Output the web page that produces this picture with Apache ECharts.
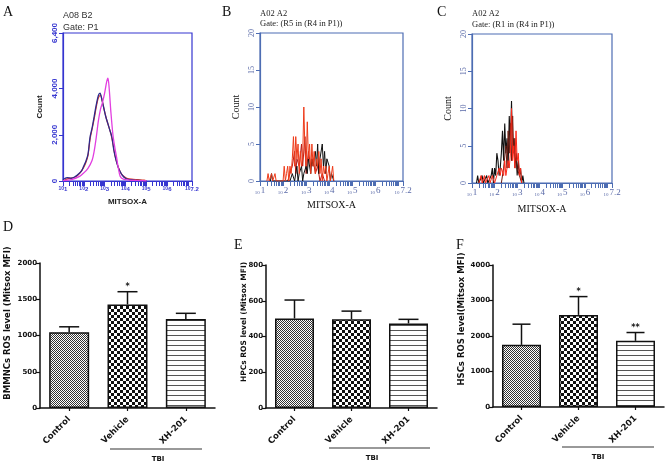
<!DOCTYPE html>
<html><head><meta charset="utf-8">
<script src="https://cdn.jsdelivr.net/npm/echarts@6/dist/echarts.min.js"></script>
<style>html,body{margin:0;padding:0;background:#fff}#c{width:666px;height:466px}</style>
</head><body><div id="c"></div>
<script>
// ---------- DATA ----------
// Panel A: x = log10(MITSOX-A), y = count
const aRed  = [[1.1,60],[1.3,110],[1.6,170],[1.8,330],[2.0,600],[2.1,800],[2.2,1100],[2.3,1800],[2.4,2250],[2.5,2700],[2.6,3200],[2.7,3600],[2.8,3700],[2.9,3400],[3.0,3000],[3.1,2650],[3.2,2350],[3.3,2050],[3.4,1600],[3.5,1100],[3.6,750],[3.7,500],[3.8,320],[3.95,180],[4.1,110],[4.3,80],[4.6,60],[4.9,40],[5.0,10]];
const aNavy = [[1.0,50],[1.2,150],[1.4,120],[1.6,200],[1.8,350],[1.9,450],[2.0,650],[2.1,850],[2.2,1150],[2.3,1900],[2.4,2300],[2.5,2800],[2.6,3300],[2.7,3700],[2.78,3800],[2.85,3600],[2.95,3200],[3.05,2800],[3.15,2500],[3.25,2200],[3.35,1900],[3.45,1300],[3.55,900],[3.65,600],[3.75,400],[3.85,250],[4.0,120],[4.2,60],[4.5,30],[4.8,20],[5.0,10]];
const aPink = [[1.0,20],[1.4,60],[1.8,200],[2.0,350],[2.2,550],[2.4,900],[2.5,1300],[2.6,1900],[2.7,2600],[2.8,3100],[2.9,3400],[3.0,3800],[3.1,4300],[3.16,4450],[3.22,4000],[3.3,3000],[3.4,2000],[3.5,1400],[3.58,1000],[3.65,600],[3.75,200],[3.9,80],[4.2,40],[4.5,25],[5.0,10]];
// Panel B
const bRed1 = [[1.3,0],[1.35,1],[1.4,0],[1.5,1],[1.55,0],[1.65,1],[1.7,0],[2.0,0],[2.05,2],[2.1,0],[2.15,1],[2.2,2],[2.25,0],[2.3,2],[2.35,1],[2.4,3],[2.45,6],[2.5,2],[2.55,6],[2.6,3],[2.65,5],[2.7,1],[2.75,4],[2.8,2],[2.85,3],[2.9,10],[2.95,4],[3.0,2],[3.05,8],[3.1,3],[3.15,5],[3.2,1],[3.25,5],[3.3,2],[3.35,4],[3.4,1],[3.45,3],[3.5,2],[3.55,4],[3.6,1],[3.65,3],[3.7,0],[3.75,2],[3.8,1],[3.85,2],[3.9,0],[3.95,1],[4.0,2],[4.05,0],[4.1,1],[4.15,2],[4.2,0]];
const bRed2 = [[2.2,0],[2.3,1],[2.4,2],[2.5,4],[2.55,1],[2.6,3],[2.7,2],[2.8,5],[2.85,2],[2.95,6],[3.0,1],[3.1,4],[3.2,2],[3.3,3],[3.4,1],[3.5,2],[3.6,0],[3.7,1],[3.8,0]];
const bBlack = [[1.45,0],[1.5,1],[1.55,0],[2.3,0],[2.4,1],[2.5,0],[2.6,2],[2.65,0],[2.7,1],[2.8,2],[2.85,0],[2.9,1],[3.0,2],[3.05,1],[3.1,3],[3.2,1],[3.25,3],[3.3,2],[3.4,4],[3.45,2],[3.5,5],[3.55,1],[3.6,3],[3.7,5],[3.75,2],[3.8,4],[3.85,1],[3.9,3],[4.0,2],[4.05,0],[4.1,1],[4.2,0]];
// Panel C
const cBlack = [[1.2,0],[1.25,1],[1.3,0],[1.45,1],[1.5,0],[1.65,1],[1.7,0],[1.85,1],[1.9,2],[1.95,0],[2.0,2],[2.05,1],[2.1,4],[2.15,3],[2.2,1],[2.25,2],[2.3,4],[2.35,7],[2.4,3],[2.45,8],[2.5,4],[2.55,6],[2.6,2],[2.65,9],[2.7,5],[2.75,11],[2.8,4],[2.85,6],[2.9,2],[2.95,4],[3.0,1],[3.05,3],[3.1,1],[3.15,2],[3.2,0],[3.25,1],[3.3,0]];
const cDark = [[2.3,0],[2.4,2],[2.5,5],[2.55,2],[2.6,7],[2.65,4],[2.7,8],[2.75,3],[2.8,9],[2.85,4],[2.9,6],[3.0,2],[3.1,1],[3.2,0]];
const cRed = [[1.3,0],[1.4,1],[1.45,0],[1.55,1],[1.6,0],[1.75,1],[1.8,0],[1.9,1],[2.0,0],[2.1,1],[2.2,2],[2.25,1],[2.3,2],[2.4,1],[2.45,3],[2.5,1],[2.55,2],[2.6,3],[2.65,2],[2.7,4],[2.75,10],[2.8,3],[2.85,5],[2.9,2],[2.95,7],[3.0,3],[3.05,4],[3.1,1],[3.15,2],[3.2,0]];
// Bar panels
const categories = ['Control','Vehicle','XH-201'];
const dMean  = [1045, 1428, 1226];
const dUpper = [1120, 1604, 1306];
const dStars = ['', '*', ''];
const eMean  = [501, 497, 473];
const eUpper = [604, 542, 496];
const eStars = ['', '', ''];
const fMean  = [1751, 2594, 1864];
const fUpper = [2333, 3110, 2098];
const fStars = ['', '*', '**'];
const flowXLabels = [1,2,3,4,5,6,7.2];
const aYLabels = [0,2000,4000,6400];

// ---------- HELPERS ----------
const logTicks = [];
for (let n = 1; n <= 7; n++) for (let k = 1; k <= 9; k++) { const v = n + Math.log10(k); if (v <= 7.2) logTicks.push(v); }
logTicks.push(7.2);

function pat(draw, w, h) {
  const c = document.createElement('canvas'); c.width = w; c.height = h;
  const g = c.getContext('2d'); g.fillStyle = '#fff'; g.fillRect(0, 0, w, h); draw(g, w, h);
  return { image: c, repeat: 'repeat' };
}
const fineChk = pat((g) => { g.fillStyle = '#333'; g.fillRect(0,0,1,1); g.fillRect(1,1,1,1); }, 2, 2);
const coarseChk = pat((g) => { g.fillStyle = '#111'; g.fillRect(0,0,3,3); g.fillRect(3,3,3,3); }, 6, 6);
const stripes = pat((g, w) => { g.fillStyle = '#555'; g.fillRect(0,0,w,1); }, 4, 5);
const patterns = [fineChk, coarseChk, stripes];

const BLUE_A = '#3535d0', BLUE_B = '#4d6db3', LBL_B = '#5a6aa8';
const SERIF = '"Liberation Serif","DejaVu Serif",serif';
const SANS = '"Liberation Sans",Arial,sans-serif';
const BOLDSANS = '"DejaVu Sans",Verdana,sans-serif';

function flowX(i, color, serif, gap) {
  return {
    type: 'value', gridIndex: i, min: 1, max: 7.2,
    axisLine: { show: true, onZero: false, lineStyle: { color, width: 1.2 } },
    splitLine: { show: false },
    axisTick: { show: true, length: 5, customValues: logTicks, lineStyle: { color, width: 1 } },
    axisLabel: {
      customValues: flowXLabels, margin: 5, color: serif ? LBL_B : color,
      formatter: (v) => '{a|10}{b|' + (Math.abs(v - 7.2) < 1e-6 ? '7.2' : Math.round(v)) + '}',
      rich: serif
        ? { a: { fontSize: 5, fontFamily: SERIF, color: LBL_B, verticalAlign: 'bottom', padding:[0,1,0,0] }, b: { fontSize: 9, fontFamily: SERIF, color: LBL_B } }
        : { a: { fontSize: 5, fontFamily: SANS, fontWeight: 'bold', color }, b: { fontSize: 6, fontFamily: SANS, fontWeight: 'bold', color, verticalAlign: 'bottom' } }
    },
    name: 'MITSOX-A', nameLocation: 'middle', nameGap: gap,
    nameTextStyle: serif ? { fontFamily: SERIF, fontSize: 10, color: '#111' } : { fontFamily: SANS, fontSize: 8, fontWeight: 'bold', color: '#222' }
  };
}
function flowY(i, color, serif, opts) {
  return Object.assign({
    type: 'value', gridIndex: i,
    axisLine: { show: true, lineStyle: { color, width: 1.2 } },
    splitLine: { show: false },
    axisTick: { show: true, length: 4, lineStyle: { color } },
    name: 'Count', nameLocation: 'middle', nameRotate: 90, nameGap: 19,
    nameTextStyle: serif ? { fontFamily: SERIF, fontSize: 10, color: '#111' } : { fontFamily: SANS, fontSize: 8, fontWeight: 'bold', color: '#222' }
  }, opts);
}
function barX(i) {
  return {
    type: 'category', gridIndex: i, data: categories,
    axisLine: { show: true, lineStyle: { color: '#111', width: 1.5 } },
    axisTick: { show: true, alignWithLabel: true, length: 3, lineStyle: { color: '#111', width: 1.2 } },
    axisLabel: { interval: 0, rotate: 45, margin: 10, fontFamily: BOLDSANS, fontWeight: 'bold', fontSize: 8.5, color: '#111' },
    splitLine: { show: false }
  };
}
function barY(i, max, interval) {
  return {
    type: 'value', gridIndex: i, min: 0, max, interval,
    axisLine: { show: true, lineStyle: { color: '#111', width: 1.5 } },
    axisTick: { show: true, length: 4, lineStyle: { color: '#111', width: 1.2 } },
    axisLabel: { margin: 3, fontFamily: BOLDSANS, fontWeight: 'bold', fontSize: 7, color: '#111', formatter: (v) => String(v) },
    splitLine: { show: false }
  };
}
function lineS(i, data, color, w, smooth) {
  return { type: 'line', xAxisIndex: i, yAxisIndex: i, data, showSymbol: false, smooth: smooth || false,
    lineStyle: { color, width: w }, itemStyle: { color }, silent: true, animation: false };
}
function barS(i, values, bw) {
  return { type: 'bar', xAxisIndex: i, yAxisIndex: i, barWidth: bw, animation: false,
    data: values.map((v, k) => ({ value: v, itemStyle: { color: patterns[k], borderColor: '#111', borderWidth: 1.5 } })) };
}
function errS(i, mean, upper, stars, half) {
  return { type: 'custom', xAxisIndex: i, yAxisIndex: i, z: 5, animation: false,
    data: mean.map((m, k) => [k, m, upper[k]]),
    renderItem: (p, api) => {
      const k = api.value(0);
      const lo = api.coord([k, api.value(1)]), hi = api.coord([k, api.value(2)]);
      const st = { stroke: '#111', lineWidth: 1.5 };
      const ch = [
        { type: 'line', shape: { x1: lo[0], y1: lo[1], x2: hi[0], y2: hi[1] }, style: st },
        { type: 'line', shape: { x1: hi[0] - half, y1: hi[1], x2: hi[0] + half, y2: hi[1] }, style: st }
      ];
      const s = stars[p.dataIndex];
      if (s) ch.push({ type: 'text', style: { text: s, x: hi[0], y: hi[1] - 1, align: 'center', verticalAlign: 'bottom', font: 'bold 8px ' + BOLDSANS, fill: '#111' } });
      return { type: 'group', children: ch };
    } };
}
function txt(x, y, text, font, fill, align) {
  return { type: 'text', x, y, style: { text, font, fill: fill || '#111', textAlign: align || 'left', textVerticalAlign: 'top' } };
}
function vtxt(x, y, text, font) {
  return { type: 'text', x, y, rotation: Math.PI / 2, style: { text, font, fill: '#111', textAlign: 'center', textVerticalAlign: 'middle' } };
}

// ---------- CHART ----------
const chart = echarts.init(document.getElementById('c'), null, { renderer: 'canvas' });
const G = [
  { left: 63, top: 33, width: 129, height: 148 },
  { left: 260, top: 33, width: 143, height: 148 },
  { left: 472, top: 34, width: 140, height: 149 },
  { left: 40, top: 263, width: 175, height: 145 },
  { left: 266, top: 265, width: 171, height: 143 },
  { left: 493, top: 265, width: 171, height: 142 }
];
const grid = G.map((g, i) => Object.assign({ containLabel: false, outerBoundsMode: 'none' }, g,
  i === 0 ? { show: true, borderColor: BLUE_A, borderWidth: 1.2 } :
  i < 3 ? { show: true, borderColor: BLUE_B, borderWidth: 1.2 } : {}));

const option = {
  backgroundColor: '#fff',
  animation: false,
  grid,
  xAxis: [flowX(0, BLUE_A, false, 17), flowX(1, BLUE_B, true, 19), flowX(2, BLUE_B, true, 21), barX(3), barX(4), barX(5)],
  yAxis: [
    flowY(0, BLUE_A, false, { min: 0, max: 6400,
      axisTick: { show: true, length: 4, customValues: aYLabels, lineStyle: { color: BLUE_A } },
      axisLabel: { customValues: aYLabels, rotate: 90, margin: 4, color: BLUE_A, fontFamily: SANS, fontWeight: 'bold', fontSize: 8,
        formatter: (v) => Number(v).toLocaleString('en-US') } }),
    flowY(1, BLUE_B, true, { min: 0, max: 20, interval: 5,
      axisLabel: { rotate: 90, margin: 4, color: LBL_B, fontFamily: SERIF, fontSize: 8 } }),
    flowY(2, BLUE_B, true, { min: 0, max: 20, interval: 5,
      axisLabel: { rotate: 90, margin: 4, color: LBL_B, fontFamily: SERIF, fontSize: 8 } }),
    barY(3, 2000, 500),
    barY(4, 800, 200),
    barY(5, 4000, 1000)
  ],
  series: [
    lineS(0, aRed, '#e23a2a', 1.2, 0.3),
    lineS(0, aNavy, '#2c2a8c', 1.3, 0.3),
    lineS(0, aPink, '#e23fe0', 1.3, 0.3),
    lineS(1, bRed2, '#b81a14', 1),
    lineS(1, bBlack, '#111', 1),
    lineS(1, bRed1, '#ee3b1a', 1),
    lineS(2, cBlack, '#111', 1.1),
    lineS(2, cDark, '#6a1c12', 1),
    lineS(2, cRed, '#ff2a1a', 1),
    barS(3, dMean, 40), errS(3, dMean, dUpper, dStars, 10),
    barS(4, eMean, 39), errS(4, eMean, eUpper, eStars, 10),
    barS(5, fMean, 39), errS(5, fMean, fUpper, fStars, 9)
  ],
  graphic: [
    // panel letters
    txt(3, 5, 'A', '14px ' + SERIF), txt(222, 5, 'B', '14px ' + SERIF), txt(437, 5, 'C', '14px ' + SERIF),
    txt(3, 220, 'D', '14px ' + SERIF), txt(234, 238, 'E', '14px ' + SERIF), txt(456, 238, 'F', '14px ' + SERIF),
    // flow titles
    txt(63, 11, 'A08 B2', '9px ' + SANS, '#333'), txt(63, 23, 'Gate: P1', '9px ' + SANS, '#333'),
    txt(260, 9, 'A02 A2', '8.5px ' + SERIF, '#222'), txt(260, 19, 'Gate: (R5 in (R4 in P1))', '8.5px ' + SERIF, '#222'),
    txt(472, 9, 'A02 A2', '8.5px ' + SERIF, '#222'), txt(472, 20, 'Gate: (R1 in (R4 in P1))', '8.5px ' + SERIF, '#222'),
    // bar-panel y titles
    vtxt(8, 323, 'BMMNCs ROS level (Mitsox MFI)', 'bold 8.5px ' + BOLDSANS),
    vtxt(244, 322, 'HPCs ROS level (Mitsox MFI)', 'bold 7.5px ' + BOLDSANS),
    vtxt(462, 319, 'HSCs ROS level(Mitsox MFI)', 'bold 8.5px ' + BOLDSANS),
    // TBI brackets
    { type: 'line', shape: { x1: 110, y1: 449, x2: 202, y2: 449 }, style: { stroke: '#777', lineWidth: 1.5 } },
    txt(158, 456, 'TBI', 'bold 7px ' + BOLDSANS, '#111', 'center'),
    { type: 'line', shape: { x1: 329, y1: 448, x2: 430, y2: 448 }, style: { stroke: '#777', lineWidth: 1.5 } },
    txt(372, 455, 'TBI', 'bold 7px ' + BOLDSANS, '#111', 'center'),
    { type: 'line', shape: { x1: 562, y1: 447, x2: 654, y2: 447 }, style: { stroke: '#777', lineWidth: 1.5 } },
    txt(598, 454, 'TBI', 'bold 7px ' + BOLDSANS, '#111', 'center')
  ]
};
chart.setOption(option);
</script>
</body></html>
